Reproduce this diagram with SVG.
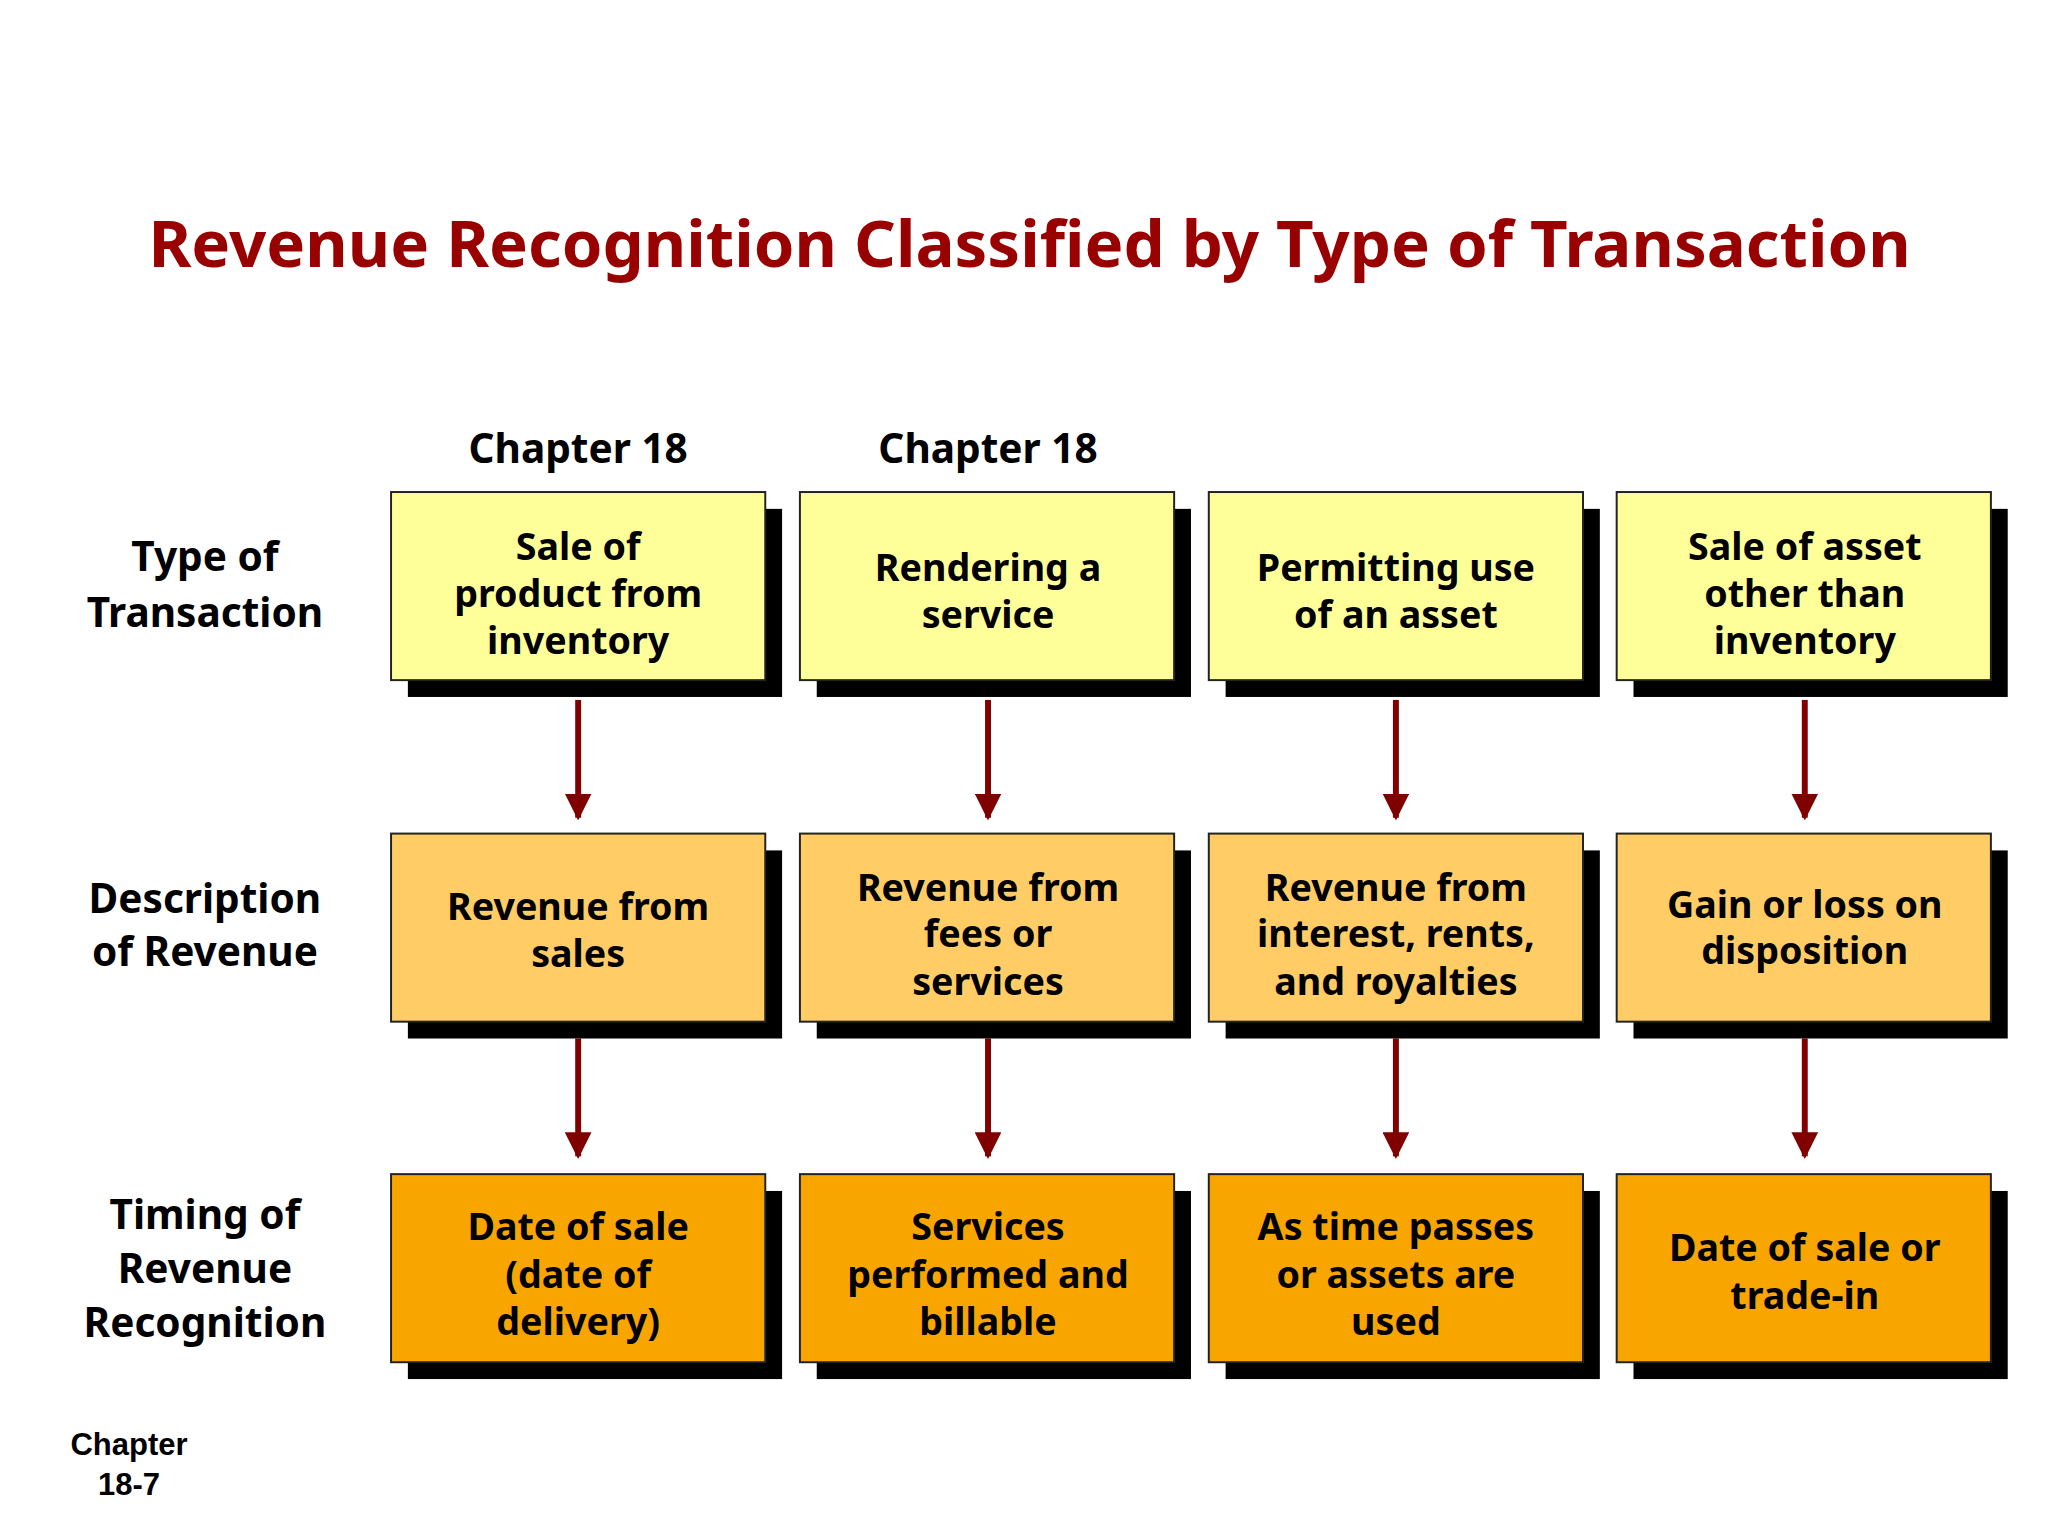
<svg xmlns="http://www.w3.org/2000/svg" width="2048" height="1536" viewBox="0 0 2048 1536">
<defs>
<style>
text{font-family:"Noto Sans","DejaVu Sans",sans-serif;font-weight:bold;text-anchor:middle;fill:#000}
.t{font-size:38px}
.lbl{font-size:41px}
.sh{fill:#000}
.b{stroke:#222;stroke-width:2}
.r1{fill:#FFFF99}.r2{fill:#FFCC66}.r3{fill:#F8A500}
.ar{stroke:#800000;stroke-width:6;fill:none}
</style>
<marker id="ah" viewBox="0 0 10 10" refX="9" refY="5" markerWidth="4.5" markerHeight="4.5" orient="auto">
<path d="M0,0L10,5L0,10Z" fill="#800000"/>
</marker>
</defs>
<rect width="2048" height="1536" fill="#fff"/>
<g transform="scale(0.99)">
<text x="1040" y="270" style="font-size:66px;fill:#990000">Revenue Recognition Classified by Type of Transaction</text>
<text class="lbl" x="584" y="468">Chapter 18</text>
<text class="lbl" x="998" y="468">Chapter 18</text>
<g id="rowlabels">
<text class="lbl" x="207" y="577">Type of</text><text class="lbl" x="207" y="633">Transaction</text>
<text class="lbl" x="207" y="922">Description</text><text class="lbl" x="207" y="976">of Revenue</text>
<text class="lbl" x="207" y="1241">Timing of</text><text class="lbl" x="207" y="1296">Revenue</text><text class="lbl" x="207" y="1351">Recognition</text>
</g>
<g id="connectors">
<path class="ar" d="M584 707V826" marker-end="url(#ah)"/>
<path class="ar" d="M998 707V826" marker-end="url(#ah)"/>
<path class="ar" d="M1410 707V826" marker-end="url(#ah)"/>
<path class="ar" d="M1823 707V826" marker-end="url(#ah)"/>
<path class="ar" d="M584 1049V1168" marker-end="url(#ah)"/>
<path class="ar" d="M998 1049V1168" marker-end="url(#ah)"/>
<path class="ar" d="M1410 1049V1168" marker-end="url(#ah)"/>
<path class="ar" d="M1823 1049V1168" marker-end="url(#ah)"/>
</g>
<g id="n11"><rect class="sh" x="412" y="514" width="378" height="190"/><rect class="b r1" x="395" y="497" width="378" height="190"/><text class="t" x="584" y="566">Sale of</text><text class="t" x="584" y="613">product from</text><text class="t" x="584" y="661">inventory</text></g>
<g id="n12"><rect class="sh" x="825" y="514" width="378" height="190"/><rect class="b r1" x="808" y="497" width="378" height="190"/><text class="t" x="998" y="587">Rendering a</text><text class="t" x="998" y="634">service</text></g>
<g id="n13"><rect class="sh" x="1238" y="514" width="378" height="190"/><rect class="b r1" x="1221" y="497" width="378" height="190"/><text class="t" x="1410" y="587">Permitting use</text><text class="t" x="1410" y="634">of an asset</text></g>
<g id="n14"><rect class="sh" x="1650" y="514" width="378" height="190"/><rect class="b r1" x="1633" y="497" width="378" height="190"/><text class="t" x="1823" y="566">Sale of asset</text><text class="t" x="1823" y="613">other than</text><text class="t" x="1823" y="661">inventory</text></g>
<g id="n21"><rect class="sh" x="412" y="859" width="378" height="190"/><rect class="b r2" x="395" y="842" width="378" height="190"/><text class="t" x="584" y="929">Revenue from</text><text class="t" x="584" y="977">sales</text></g>
<g id="n22"><rect class="sh" x="825" y="859" width="378" height="190"/><rect class="b r2" x="808" y="842" width="378" height="190"/><text class="t" x="998" y="910">Revenue from</text><text class="t" x="998" y="957">fees or</text><text class="t" x="998" y="1005">services</text></g>
<g id="n23"><rect class="sh" x="1238" y="859" width="378" height="190"/><rect class="b r2" x="1221" y="842" width="378" height="190"/><text class="t" x="1410" y="910">Revenue from</text><text class="t" x="1410" y="957">interest, rents,</text><text class="t" x="1410" y="1005">and royalties</text></g>
<g id="n24"><rect class="sh" x="1650" y="859" width="378" height="190"/><rect class="b r2" x="1633" y="842" width="378" height="190"/><text class="t" x="1823" y="927">Gain or loss on</text><text class="t" x="1823" y="974">disposition</text></g>
<g id="n31"><rect class="sh" x="412" y="1203" width="378" height="190"/><rect class="b r3" x="395" y="1186" width="378" height="190"/><text class="t" x="584" y="1253">Date of sale</text><text class="t" x="584" y="1301">(date of</text><text class="t" x="584" y="1348">delivery)</text></g>
<g id="n32"><rect class="sh" x="825" y="1203" width="378" height="190"/><rect class="b r3" x="808" y="1186" width="378" height="190"/><text class="t" x="998" y="1253">Services</text><text class="t" x="998" y="1301">performed and</text><text class="t" x="998" y="1348">billable</text></g>
<g id="n33"><rect class="sh" x="1238" y="1203" width="378" height="190"/><rect class="b r3" x="1221" y="1186" width="378" height="190"/><text class="t" x="1410" y="1253">As time passes</text><text class="t" x="1410" y="1301">or assets are</text><text class="t" x="1410" y="1348">used</text></g>
<g id="n34"><rect class="sh" x="1650" y="1203" width="378" height="190"/><rect class="b r3" x="1633" y="1186" width="378" height="190"/><text class="t" x="1823" y="1274">Date of sale or</text><text class="t" x="1823" y="1322">trade-in</text></g>
</g>
<text x="129" y="1455" style="font-family:'Liberation Sans',Arial,sans-serif;font-size:31px">Chapter</text>
<text x="129" y="1495" style="font-family:'Liberation Sans',Arial,sans-serif;font-size:31px">18-7</text>
</svg>
